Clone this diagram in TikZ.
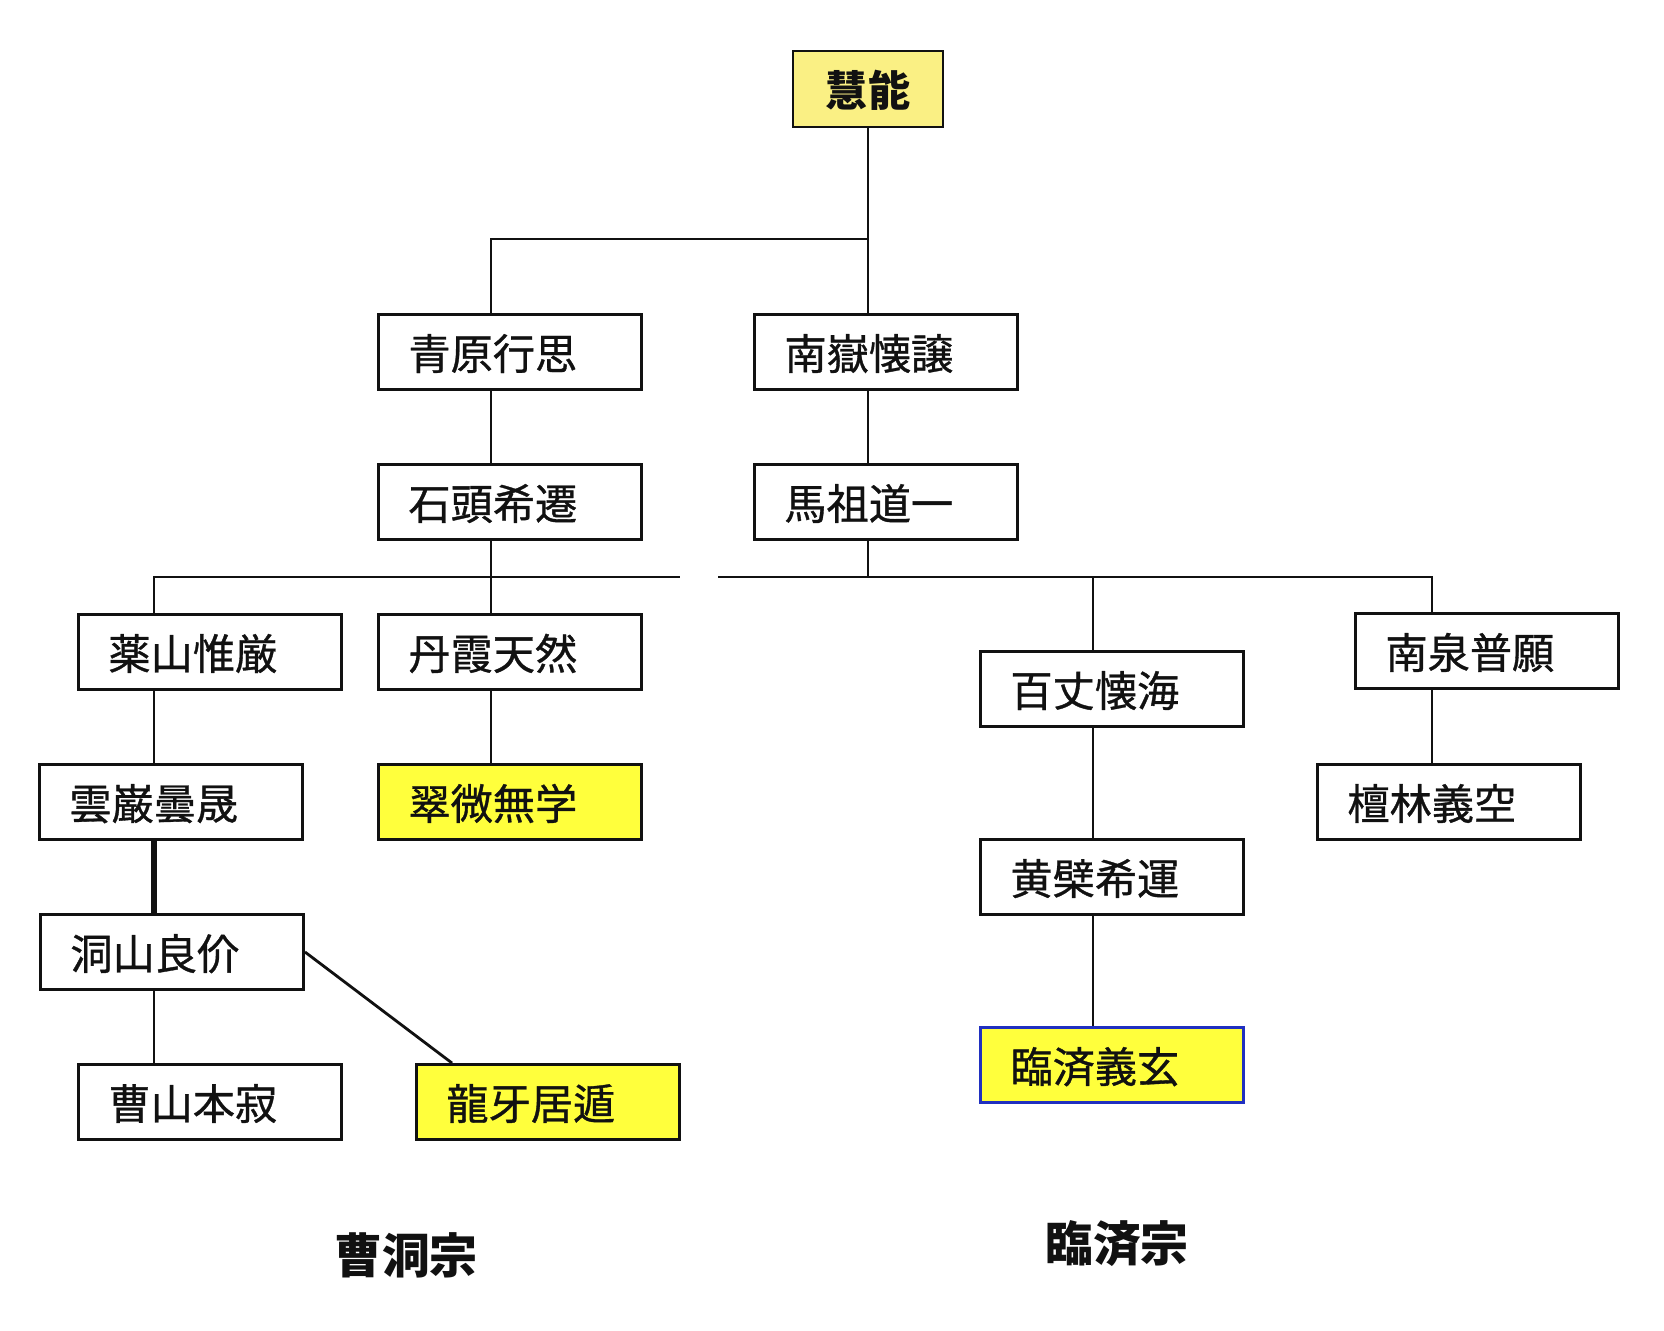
\documentclass[tikz,border=0pt]{standalone}
\usepackage{fontspec}
\newfontfamily\jpfont{Noto Sans CJK JP}
\newfontfamily\jpheavy{Noto Sans CJK JP}[FakeBold=0.8]
\usetikzlibrary{calc}
\definecolor{zenink}{HTML}{111111}
\definecolor{zenyellow}{HTML}{FFFF3C}
\definecolor{zenpale}{HTML}{FAF084}
\definecolor{zenblue}{HTML}{2030C0}
\tikzset{
  every picture/.style={font=\jpheavy\fontsize{12pt}{14pt}\selectfont,text=zenink},
  monk/.style={draw=zenink,fill=white,line width=0.8pt,minimum height=0.75cm,
    inner xsep=0.3cm,inner ysep=0pt,text width=2.03cm,align=left,
    text height=1em,text depth=0pt},
  heir/.style={monk,fill=zenyellow},
  founder/.style={draw=zenink,fill=zenpale,line width=0.8pt,minimum width=1.5cm,
    minimum height=0.76cm,text height=1em,text depth=0pt,
    font=\jpfont\bfseries\fontsize{12pt}{14pt}\selectfont},
  lineage/.style={draw=zenink,line width=0.8pt},
  strong/.style={lineage,line width=1.5pt},
  school/.style={font=\jpfont\bfseries\fontsize{13.6pt}{16pt}\selectfont},
}
\begin{document}
\begin{tikzpicture}[x=0.01cm,y=-0.01cm]
  \path[use as bounding box,fill=white] (0,0) rectangle (1664,1331);
  % columns and junction rows of the connectors
  \coordinate (colA) at (154,0);
  \coordinate (colB) at (491,0);
  \coordinate (colC) at (868,0);
  \coordinate (colD) at (1093,0);
  \coordinate (colE) at (1432,0);
  \coordinate (rowA) at (0,239);
  \coordinate (rowB) at (0,577);
  \coordinate (gapL) at (680,577);
  \coordinate (gapR) at (718,577);
  \node[founder] (huineng) at (868,89) {慧能};
  \node[monk] (qingyuan) at (510,352) {青原行思};
  \node[monk] (nanyue) at (886,352) {南嶽懐譲};
  \node[monk] (shitou) at (510,502) {石頭希遷};
  \node[monk] (mazu) at (886,502) {馬祖道一};
  \node[monk] (yaoshan) at (210,652) {薬山惟厳};
  \node[monk] (danxia) at (510,652) {丹霞天然};
  \node[monk] (baizhang) at (1112,689) {百丈懐海};
  \node[monk] (nanquan) at (1487,651) {南泉普願};
  \node[monk] (yunyan) at (171,802) {雲巌曇晟};
  \node[heir] (cuiwei) at (510,802) {翠微無学};
  \node[monk] (danlin) at (1449,802) {檀林義空};
  \node[monk] (huangbo) at (1112,877) {黄檗希運};
  \node[monk] (dongshan) at (172,952) {洞山良价};
  \node[heir,draw=zenblue] (linji) at (1112,1065) {臨済義玄};
  \node[monk] (caoshan) at (210,1102) {曹山本寂};
  \node[heir] (longya) at (548,1102) {龍牙居遁};
  \node[school] (caodong) at (406,1255) {曹洞宗};
  \node[school] (linjizong) at (1117,1244) {臨済宗};
  % upper tree
  \draw[lineage] (huineng.south -| colC) -- (colC |- rowA) -| (qingyuan.north -| colB);
  \draw[lineage] (colC |- rowA) -- (nanyue.north -| colC);
  \draw[lineage] (qingyuan.south -| colB) -- (shitou.north -| colB);
  \draw[lineage] (nanyue.south -| colC) -- (mazu.north -| colC);
  % the broken cross line
  \draw[lineage] (yaoshan.north -| colA) |- (gapL);
  \draw[lineage] (shitou.south -| colB) -- (danxia.north -| colB);
  \draw[lineage] (gapR) -| (nanquan.north -| colE);
  \draw[lineage] (mazu.south -| colC) -- (colC |- rowB);
  \draw[lineage] (colD |- rowB) -- (baizhang.north -| colD);
  % lower branches
  \draw[lineage] (yaoshan.south -| colA) -- (yunyan.north -| colA);
  \draw[strong] (yunyan.south -| colA) -- (dongshan.north -| colA);
  \draw[lineage] (dongshan.south -| colA) -- (caoshan.north -| colA);
  \draw[lineage] (dongshan.east) -- ($(longya.north west)+(37,0)$);
  \draw[lineage] (danxia.south -| colB) -- (cuiwei.north -| colB);
  \draw[lineage] (baizhang.south -| colD) -- (huangbo.north -| colD);
  \draw[lineage] (huangbo.south -| colD) -- (linji.north -| colD);
  \draw[lineage] (nanquan.south -| colE) -- (danlin.north -| colE);
\end{tikzpicture}
\end{document}
